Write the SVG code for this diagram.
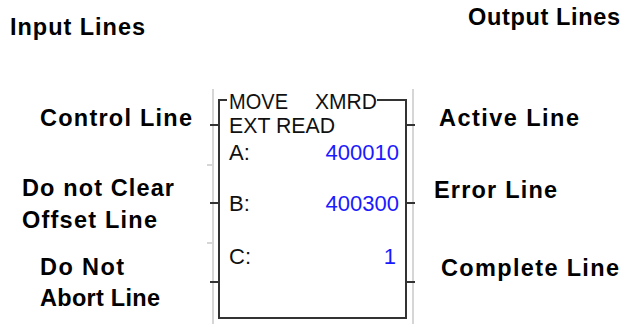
<svg xmlns="http://www.w3.org/2000/svg" width="629" height="324" viewBox="0 0 629 324">
<style>
.lbl{font-family:"Liberation Sans",Arial,sans-serif;font-weight:bold;font-size:23.5px;fill:#000}
.bx{font-family:"Liberation Sans",Arial,sans-serif;font-size:22px;fill:#111}
.val{font-family:"Liberation Sans",Arial,sans-serif;font-size:22px;fill:#1a1aff;text-anchor:end}
.rail{stroke:#d6d6d6;stroke-width:2;fill:none}
.gt{stroke:#d6d6d6;stroke-width:2}
.ln{stroke:#333;stroke-width:2;fill:none}
</style>
<rect width="629" height="324" fill="#fff"/>
<g id="connectors">
<line class="rail" x1="213" y1="89" x2="213" y2="324"/>
<line class="rail" x1="413" y1="89" x2="413" y2="324"/>
<line class="gt" x1="207" y1="165" x2="213" y2="165"/>
<line class="gt" x1="207" y1="243" x2="213" y2="243"/>
<line class="ln" x1="210" y1="125" x2="219" y2="125"/>
<line class="ln" x1="210" y1="203" x2="219" y2="203"/>
<line class="ln" x1="210" y1="282" x2="219" y2="282"/>
<line class="ln" x1="406" y1="125" x2="415" y2="125"/>
<line class="ln" x1="406" y1="203" x2="415" y2="203"/>
<line class="ln" x1="406" y1="282" x2="415" y2="282"/>
</g>
<g id="block">
<path class="ln" d="M227,100 H219 V318 H406 V100 H377"/>
<text class="bx" x="229" y="109" textLength="59" lengthAdjust="spacingAndGlyphs">MOVE</text>
<text class="bx" x="315" y="109" textLength="62" lengthAdjust="spacingAndGlyphs">XMRD</text>
<text class="bx" x="229" y="133" textLength="106" lengthAdjust="spacingAndGlyphs">EXT READ</text>
<text class="bx" x="229" y="160">A:</text>
<text class="val" x="399" y="160">400010</text>
<text class="bx" x="229" y="211">B:</text>
<text class="val" x="399" y="211">400300</text>
<text class="bx" x="229" y="264">C:</text>
<text class="val" x="396" y="264">1</text>
</g>
<g id="input-lines"><text class="lbl" x="10" y="35" textLength="135">Input Lines</text></g>
<g id="output-lines"><text class="lbl" x="468" y="25" textLength="152">Output Lines</text></g>
<g id="control-line"><text class="lbl" x="40" y="126" textLength="152">Control Line</text></g>
<g id="do-not-clear"><text class="lbl" x="22" y="196" textLength="152">Do not Clear</text><text class="lbl" x="22" y="228" textLength="135">Offset Line</text></g>
<g id="do-not-abort"><text class="lbl" x="40" y="275" textLength="84">Do Not</text><text class="lbl" x="40" y="306" textLength="120">Abort Line</text></g>
<g id="active-line"><text class="lbl" x="439" y="126" textLength="140">Active Line</text></g>
<g id="error-line"><text class="lbl" x="434" y="198" textLength="123">Error Line</text></g>
<g id="complete-line"><text class="lbl" x="441" y="276" textLength="178">Complete Line</text></g>
</svg>
